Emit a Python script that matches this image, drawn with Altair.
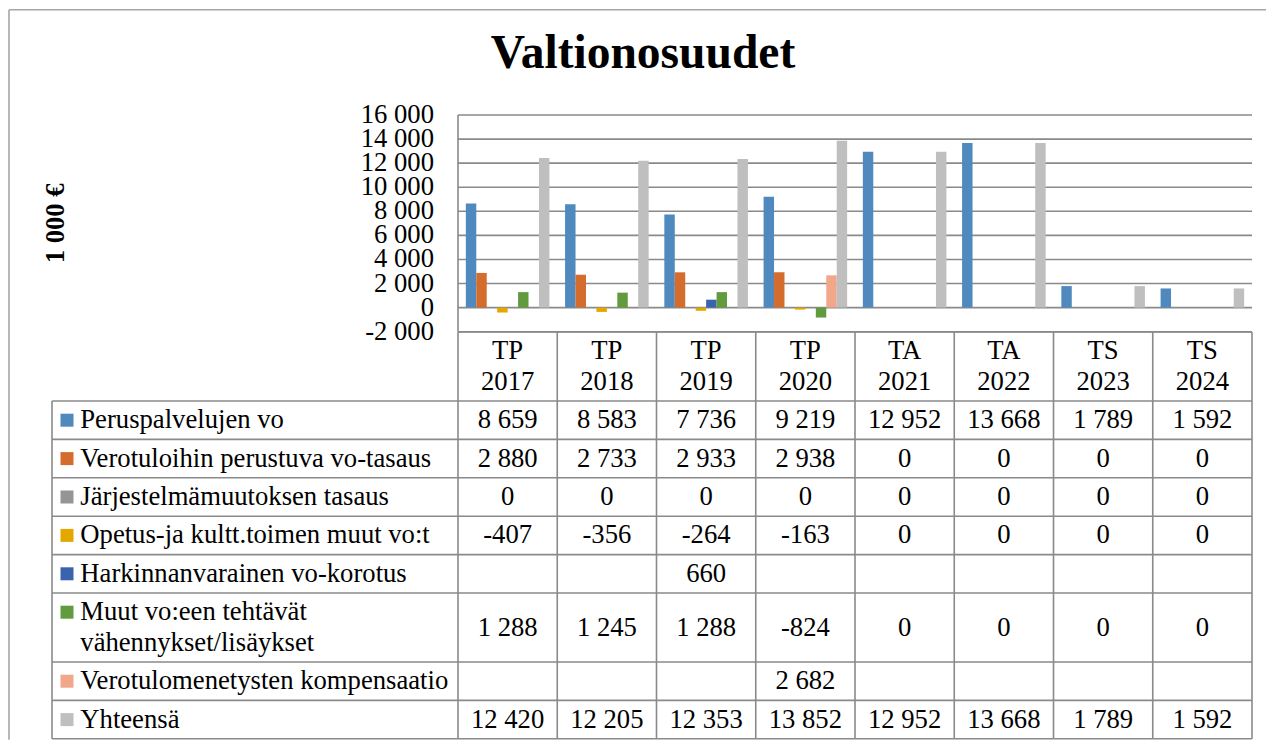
import altair as alt
import pandas as pd

# ---------------- data ----------------
TITLE = "Valtionosuudet"
Y_TITLE = "1 000 €"
CATEGORIES = ["TP 2017", "TP 2018", "TP 2019", "TP 2020",
              "TA 2021", "TA 2022", "TS 2023", "TS 2024"]
SERIES = ["Peruspalvelujen vo",
          "Verotuloihin perustuva vo-tasaus",
          "Järjestelmämuutoksen tasaus",
          "Opetus-ja kultt.toimen muut vo:t",
          "Harkinnanvarainen vo-korotus",
          "Muut vo:een tehtävät\nvähennykset/lisäykset",
          "Verotulomenetysten kompensaatio",
          "Yhteensä"]
COLORS = ["#4f89be", "#d46c2d", "#959595", "#e4a700",
          "#3a63ae", "#629a3e", "#f0a78a", "#bfbfbf"]

PERUSPALVELUT = [8659, 8583, 7736, 9219, 12952, 13668, 1789, 1592]
VEROTULOTASAUS = [2880, 2733, 2933, 2938, 0, 0, 0, 0]
JARJESTELMA = [0, 0, 0, 0, 0, 0, 0, 0]
OPETUS_KULTTUURI = [-407, -356, -264, -163, 0, 0, 0, 0]
HARKINNANVARAINEN = [None, None, 660, None, None, None, None, None]
MUUT = [1288, 1245, 1288, -824, 0, 0, 0, 0]
KOMPENSAATIO = [None, None, None, 2682, None, None, None, None]
YHTEENSA = [12420, 12205, 12353, 13852, 12952, 13668, 1789, 1592]
SERIES_VALUES = [PERUSPALVELUT, VEROTULOTASAUS, JARJESTELMA, OPETUS_KULTTUURI,
                 HARKINNANVARAINEN, MUUT, KOMPENSAATIO, YHTEENSA]

Y_TICKS = [-2000, 0, 2000, 4000, 6000, 8000, 10000, 12000, 14000, 16000]
Y_TICK_LABELS = ["-2 000", "0", "2 000", "4 000", "6 000", "8 000",
                 "10 000", "12 000", "14 000", "16 000"]

# ---------------- layout / style ----------------
SERIF = "Liberation Serif, Tinos, 'Times New Roman', Times, serif"
LINE = "#8a8a8a"
FRAME = "#a6a6a6"
FS = 26.67
COL_W = 99.25
LABEL_W = 406.0
N = len(CATEGORIES)
K = len(SERIES)
L = LABEL_W / COL_W
FULL_W = LABEL_W + N * COL_W
BAR_H = 216.7
GAP = 1.5
LINE_H = 30.6
CELL_PAD = 7.8


def fmt(v):
    return f"{v:,}".replace(",", " ")


xscale = alt.Scale(domain=[-L, N], nice=False, zero=False)
yscale = alt.Scale(domain=[Y_TICKS[0], Y_TICKS[-1]], nice=False, zero=False)
cscale = alt.Scale(domain=SERIES, range=COLORS)


def X(f):
    return alt.X(f, scale=xscale, axis=None)


# ---------------- bar chart ----------------
bar_rows = []
for k, (s, vals) in enumerate(zip(SERIES, SERIES_VALUES)):
    for i, v in enumerate(vals):
        if v is not None:
            bar_rows.append({"series": s, "k": k, "i": i, "value": v})
bars_df = pd.DataFrame(bar_rows)
slot = K + GAP

bars = alt.Chart(bars_df).transform_calculate(
    x0=f"datum.i + ({GAP / 2} + datum.k) / {slot}",
    x1=f"datum.i + ({GAP / 2} + datum.k + 1) / {slot}",
    base="0",
).mark_rect().encode(
    x=X("x0:Q"),
    x2=alt.X2("x1"),
    y=alt.Y("value:Q", scale=yscale, axis=None),
    y2=alt.Y2("base"),
    color=alt.Color("series:N", scale=cscale, legend=None),
)

ticks_df = pd.DataFrame({"tick": Y_TICKS, "label": Y_TICK_LABELS})
ticks_df["x0"] = 0
ticks_df["x1"] = N

grid = alt.Chart(ticks_df).mark_rule(color=LINE, strokeWidth=1.6).encode(
    x=X("x0:Q"), x2=alt.X2("x1"),
    y=alt.Y("tick:Q", scale=yscale, axis=None),
)
tick_labels = alt.Chart(ticks_df).mark_text(
    align="right", baseline="middle", dx=-24, font=SERIF, fontSize=FS, color="black"
).encode(
    x=X("x0:Q"), y=alt.Y("tick:Q", scale=yscale, axis=None), text="label:N"
)
axis_df = pd.DataFrame({"x": [0], "y0": [Y_TICKS[0]], "y1": [Y_TICKS[-1]]})
axis_line = alt.Chart(axis_df).mark_rule(color=LINE, strokeWidth=1.6).encode(
    x=X("x:Q"), y=alt.Y("y0:Q", scale=yscale, axis=None), y2=alt.Y2("y1")
)
ytitle_df = pd.DataFrame({"x": [-L], "y": [(Y_TICKS[0] + Y_TICKS[-1]) / 2], "t": [Y_TITLE]})
y_title = alt.Chart(ytitle_df).mark_text(
    angle=270, baseline="middle", dy=4, font=SERIF, fontSize=FS, fontWeight="bold", color="black"
).encode(x=X("x:Q"), y=alt.Y("y:Q", scale=yscale, axis=None), text="t:N")

top = alt.layer(grid, bars, axis_line, tick_labels, y_title).properties(
    width=FULL_W, height=BAR_H,
    title=alt.TitleParams(TITLE, font=SERIF, fontSize=47.5, fontWeight="bold",
                          anchor="middle", color="black", offset=25, dx=-9),
)

# ---------------- data table ----------------
header_text = [c.replace(" ", "\n") for c in CATEGORIES]
row_lines = [2] + [s.count("\n") + 1 for s in SERIES]
heights = [CELL_PAD + LINE_H * n for n in row_lines]
bounds = [0.0]
for h in heights:
    bounds.append(bounds[-1] + h)
TABLE_H = bounds[-1]
FIRST_LINE = CELL_PAD / 2 + LINE_H / 2
tscale = alt.Scale(domain=[0, TABLE_H], nice=False, zero=False, reverse=True)


def TY(f):
    return alt.Y(f, scale=tscale, axis=None)


hl_df = pd.DataFrame({"y": bounds,
                      "x0": [0] + [-L] * (len(bounds) - 1),
                      "x1": [N] * len(bounds)})
vl_df = pd.DataFrame({"x": [-L] + list(range(N + 1)),
                      "y0": [bounds[1]] + [0] * (N + 1),
                      "y1": [TABLE_H] * (N + 2)})

h_lines = alt.Chart(hl_df).mark_rule(color=LINE, strokeWidth=1.6).encode(
    x=X("x0:Q"), x2=alt.X2("x1"), y=TY("y:Q"))
v_lines = alt.Chart(vl_df).mark_rule(color=LINE, strokeWidth=1.6).encode(
    x=X("x:Q"), y=TY("y0:Q"), y2=alt.Y2("y1"))

head_df = pd.DataFrame({"x": [i + 0.5 for i in range(N)],
                        "y": [FIRST_LINE] * N,
                        "t": header_text})
head = alt.Chart(head_df).mark_text(
    font=SERIF, fontSize=FS, color="black", baseline="middle", lineBreak="\n", lineHeight=LINE_H
).encode(x=X("x:Q"), y=TY("y:Q"), text="t:N")

cell_rows, lab_rows = [], []
for r, (s, vals) in enumerate(zip(SERIES, SERIES_VALUES)):
    top_y = bounds[r + 1]
    center = (bounds[r + 1] + bounds[r + 2]) / 2
    lab_rows.append({"x": -L, "xs": -L + 15.0 / COL_W,
                     "y": top_y + FIRST_LINE, "series": s})
    for i, v in enumerate(vals):
        if v is not None:
            cell_rows.append({"x": i + 0.5, "y": center, "t": fmt(v)})
cells_df = pd.DataFrame(cell_rows)
labs_df = pd.DataFrame(lab_rows)

cells = alt.Chart(cells_df).mark_text(
    font=SERIF, fontSize=FS, color="black", baseline="middle"
).encode(x=X("x:Q"), y=TY("y:Q"), text="t:N")

labels = alt.Chart(labs_df).mark_text(
    font=SERIF, fontSize=FS, color="black", align="left", baseline="middle",
    dx=28.3, lineBreak="\n", lineHeight=LINE_H
).encode(x=X("x:Q"), y=TY("y:Q"), text="series:N")

squares = alt.Chart(labs_df).mark_square(size=169, opacity=1, filled=True).encode(
    x=X("xs:Q"), y=TY("y:Q"),
    color=alt.Color("series:N", scale=cscale, legend=None))

# chart-area border (top and left edge of the chart frame)
frame_left = alt.Chart(axis_df).mark_rule(color=FRAME, strokeWidth=1.6).encode(
    x=alt.value(-43.0), y=alt.value(-322.3), y2=alt.value(TABLE_H + 1))
frame_top = alt.Chart(axis_df).mark_rule(color=FRAME, strokeWidth=1.6).encode(
    x=alt.value(-43.0), x2=alt.value(1214.0), y=alt.value(-322.3))

table = alt.layer(h_lines, v_lines, head, cells, labels, squares,
                  frame_left, frame_top).properties(
    width=FULL_W, height=TABLE_H
)

chart = alt.vconcat(top, table, spacing=0, bounds="flush").properties(
    padding={"left": 0, "top": 0, "right": 0, "bottom": 0},
).configure_view(stroke=None)

chart.save("out.html", embed_options={"renderer": "svg", "actions": False})
